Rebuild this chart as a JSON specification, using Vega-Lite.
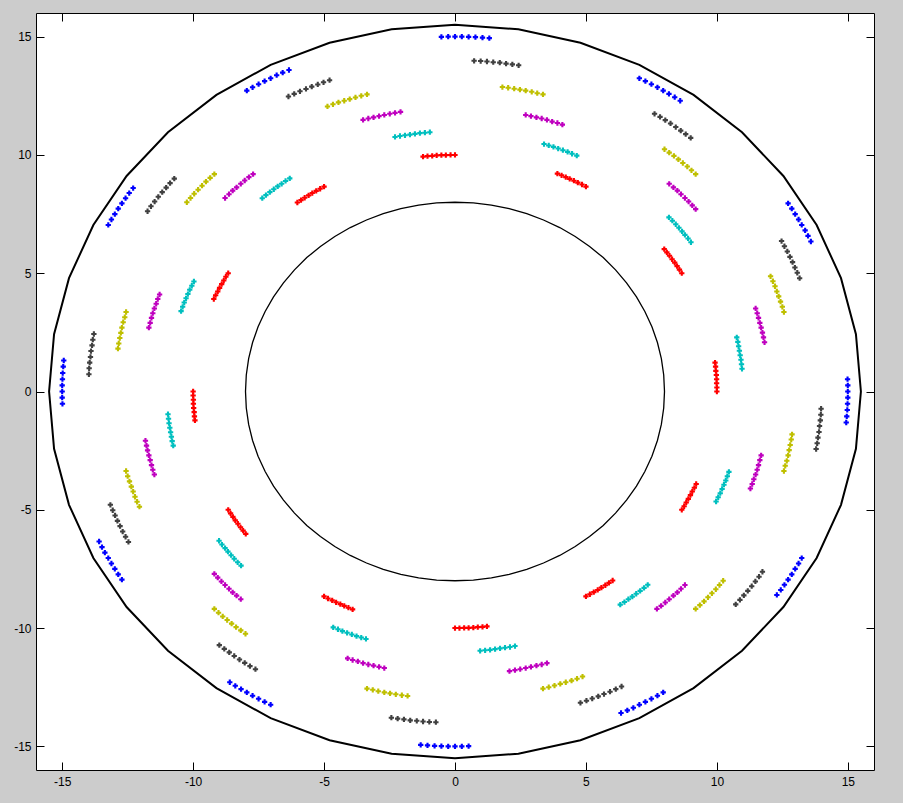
{
"$schema":"https://vega.github.io/schema/vega-lite/v6.json",
"width":838,"height":757,
"autosize":"none",
"padding":{"left":36,"top":13,"right":29,"bottom":33},
"background":"#cccccc",
"config":{"view":{"fill":"white","stroke":"black","strokeWidth":1},
 "axis":{"grid":false,"domain":false,"tickColor":"black","tickSize":-8,"tickWidth":1,"labelFont":"Liberation Sans","labelFontSize":12,"labelColor":"black","title":null}},
"datasets":{
"outer":[{"o":0,"x":15.5,"y":0},{"o":9,"x":15.31,"y":2.42},{"o":18,"x":14.74,"y":4.79},{"o":27,"x":13.81,"y":7.04},{"o":36,"x":12.54,"y":9.11},{"o":45,"x":10.96,"y":10.96},{"o":54,"x":9.11,"y":12.54},{"o":63,"x":7.04,"y":13.81},{"o":72,"x":4.79,"y":14.74},{"o":81,"x":2.42,"y":15.31},{"o":90,"x":0,"y":15.5},{"o":99,"x":-2.42,"y":15.31},{"o":108,"x":-4.79,"y":14.74},{"o":117,"x":-7.04,"y":13.81},{"o":126,"x":-9.11,"y":12.54},{"o":135,"x":-10.96,"y":10.96},{"o":144,"x":-12.54,"y":9.11},{"o":153,"x":-13.81,"y":7.04},{"o":162,"x":-14.74,"y":4.79},{"o":171,"x":-15.31,"y":2.42},{"o":180,"x":-15.5,"y":0},{"o":189,"x":-15.31,"y":-2.42},{"o":198,"x":-14.74,"y":-4.79},{"o":207,"x":-13.81,"y":-7.04},{"o":216,"x":-12.54,"y":-9.11},{"o":225,"x":-10.96,"y":-10.96},{"o":234,"x":-9.11,"y":-12.54},{"o":243,"x":-7.04,"y":-13.81},{"o":252,"x":-4.79,"y":-14.74},{"o":261,"x":-2.42,"y":-15.31},{"o":270,"x":0,"y":-15.5},{"o":279,"x":2.42,"y":-15.31},{"o":288,"x":4.79,"y":-14.74},{"o":297,"x":7.04,"y":-13.81},{"o":306,"x":9.11,"y":-12.54},{"o":315,"x":10.96,"y":-10.96},{"o":324,"x":12.54,"y":-9.11},{"o":333,"x":13.81,"y":-7.04},{"o":342,"x":14.74,"y":-4.79},{"o":351,"x":15.31,"y":-2.42},{"o":360,"x":15.5,"y":0}],
"inner":[{"o":0,"x":8,"y":0},{"o":5,"x":7.97,"y":0.7},{"o":10,"x":7.88,"y":1.39},{"o":15,"x":7.73,"y":2.07},{"o":20,"x":7.52,"y":2.74},{"o":25,"x":7.25,"y":3.38},{"o":30,"x":6.93,"y":4},{"o":35,"x":6.55,"y":4.59},{"o":40,"x":6.13,"y":5.14},{"o":45,"x":5.66,"y":5.66},{"o":50,"x":5.14,"y":6.13},{"o":55,"x":4.59,"y":6.55},{"o":60,"x":4,"y":6.93},{"o":65,"x":3.38,"y":7.25},{"o":70,"x":2.74,"y":7.52},{"o":75,"x":2.07,"y":7.73},{"o":80,"x":1.39,"y":7.88},{"o":85,"x":0.7,"y":7.97},{"o":90,"x":0,"y":8},{"o":95,"x":-0.7,"y":7.97},{"o":100,"x":-1.39,"y":7.88},{"o":105,"x":-2.07,"y":7.73},{"o":110,"x":-2.74,"y":7.52},{"o":115,"x":-3.38,"y":7.25},{"o":120,"x":-4,"y":6.93},{"o":125,"x":-4.59,"y":6.55},{"o":130,"x":-5.14,"y":6.13},{"o":135,"x":-5.66,"y":5.66},{"o":140,"x":-6.13,"y":5.14},{"o":145,"x":-6.55,"y":4.59},{"o":150,"x":-6.93,"y":4},{"o":155,"x":-7.25,"y":3.38},{"o":160,"x":-7.52,"y":2.74},{"o":165,"x":-7.73,"y":2.07},{"o":170,"x":-7.88,"y":1.39},{"o":175,"x":-7.97,"y":0.7},{"o":180,"x":-8,"y":0},{"o":185,"x":-7.97,"y":-0.7},{"o":190,"x":-7.88,"y":-1.39},{"o":195,"x":-7.73,"y":-2.07},{"o":200,"x":-7.52,"y":-2.74},{"o":205,"x":-7.25,"y":-3.38},{"o":210,"x":-6.93,"y":-4},{"o":215,"x":-6.55,"y":-4.59},{"o":220,"x":-6.13,"y":-5.14},{"o":225,"x":-5.66,"y":-5.66},{"o":230,"x":-5.14,"y":-6.13},{"o":235,"x":-4.59,"y":-6.55},{"o":240,"x":-4,"y":-6.93},{"o":245,"x":-3.38,"y":-7.25},{"o":250,"x":-2.74,"y":-7.52},{"o":255,"x":-2.07,"y":-7.73},{"o":260,"x":-1.39,"y":-7.88},{"o":265,"x":-0.7,"y":-7.97},{"o":270,"x":0,"y":-8},{"o":275,"x":0.7,"y":-7.97},{"o":280,"x":1.39,"y":-7.88},{"o":285,"x":2.07,"y":-7.73},{"o":290,"x":2.74,"y":-7.52},{"o":295,"x":3.38,"y":-7.25},{"o":300,"x":4,"y":-6.93},{"o":305,"x":4.59,"y":-6.55},{"o":310,"x":5.14,"y":-6.13},{"o":315,"x":5.66,"y":-5.66},{"o":320,"x":6.13,"y":-5.14},{"o":325,"x":6.55,"y":-4.59},{"o":330,"x":6.93,"y":-4},{"o":335,"x":7.25,"y":-3.38},{"o":340,"x":7.52,"y":-2.74},{"o":345,"x":7.73,"y":-2.07},{"o":350,"x":7.88,"y":-1.39},{"o":355,"x":7.97,"y":-0.7},{"o":360,"x":8,"y":0}],
"pts":[
{"c":0,"x":10,"y":0},{"c":0,"x":10,"y":0.17},{"c":0,"x":9.99,"y":0.35},{"c":0,"x":9.99,"y":0.52},{"c":0,"x":9.98,"y":0.7},{"c":0,"x":9.96,"y":0.87},{"c":0,"x":9.95,"y":1.05},{"c":0,"x":9.93,"y":1.22},
{"c":0,"x":8.66,"y":5},{"c":0,"x":8.57,"y":5.15},{"c":0,"x":8.48,"y":5.3},{"c":0,"x":8.39,"y":5.45},{"c":0,"x":8.29,"y":5.59},{"c":0,"x":8.19,"y":5.74},{"c":0,"x":8.09,"y":5.88},{"c":0,"x":7.99,"y":6.02},
{"c":0,"x":5,"y":8.66},{"c":0,"x":4.85,"y":8.75},{"c":0,"x":4.69,"y":8.83},{"c":0,"x":4.54,"y":8.91},{"c":0,"x":4.38,"y":8.99},{"c":0,"x":4.23,"y":9.06},{"c":0,"x":4.07,"y":9.14},{"c":0,"x":3.91,"y":9.21},
{"c":0,"x":0,"y":10},{"c":0,"x":-0.17,"y":10},{"c":0,"x":-0.35,"y":9.99},{"c":0,"x":-0.52,"y":9.99},{"c":0,"x":-0.7,"y":9.98},{"c":0,"x":-0.87,"y":9.96},{"c":0,"x":-1.05,"y":9.95},{"c":0,"x":-1.22,"y":9.93},
{"c":0,"x":-5,"y":8.66},{"c":0,"x":-5.15,"y":8.57},{"c":0,"x":-5.3,"y":8.48},{"c":0,"x":-5.45,"y":8.39},{"c":0,"x":-5.59,"y":8.29},{"c":0,"x":-5.74,"y":8.19},{"c":0,"x":-5.88,"y":8.09},{"c":0,"x":-6.02,"y":7.99},
{"c":0,"x":-8.66,"y":5},{"c":0,"x":-8.75,"y":4.85},{"c":0,"x":-8.83,"y":4.69},{"c":0,"x":-8.91,"y":4.54},{"c":0,"x":-8.99,"y":4.38},{"c":0,"x":-9.06,"y":4.23},{"c":0,"x":-9.14,"y":4.07},{"c":0,"x":-9.21,"y":3.91},
{"c":0,"x":-10,"y":0},{"c":0,"x":-10,"y":-0.17},{"c":0,"x":-9.99,"y":-0.35},{"c":0,"x":-9.99,"y":-0.52},{"c":0,"x":-9.98,"y":-0.7},{"c":0,"x":-9.96,"y":-0.87},{"c":0,"x":-9.95,"y":-1.05},{"c":0,"x":-9.93,"y":-1.22},
{"c":0,"x":-8.66,"y":-5},{"c":0,"x":-8.57,"y":-5.15},{"c":0,"x":-8.48,"y":-5.3},{"c":0,"x":-8.39,"y":-5.45},{"c":0,"x":-8.29,"y":-5.59},{"c":0,"x":-8.19,"y":-5.74},{"c":0,"x":-8.09,"y":-5.88},{"c":0,"x":-7.99,"y":-6.02},
{"c":0,"x":-5,"y":-8.66},{"c":0,"x":-4.85,"y":-8.75},{"c":0,"x":-4.69,"y":-8.83},{"c":0,"x":-4.54,"y":-8.91},{"c":0,"x":-4.38,"y":-8.99},{"c":0,"x":-4.23,"y":-9.06},{"c":0,"x":-4.07,"y":-9.14},{"c":0,"x":-3.91,"y":-9.21},
{"c":0,"x":0,"y":-10},{"c":0,"x":0.17,"y":-10},{"c":0,"x":0.35,"y":-9.99},{"c":0,"x":0.52,"y":-9.99},{"c":0,"x":0.7,"y":-9.98},{"c":0,"x":0.87,"y":-9.96},{"c":0,"x":1.05,"y":-9.95},{"c":0,"x":1.22,"y":-9.93},
{"c":0,"x":5,"y":-8.66},{"c":0,"x":5.15,"y":-8.57},{"c":0,"x":5.3,"y":-8.48},{"c":0,"x":5.45,"y":-8.39},{"c":0,"x":5.59,"y":-8.29},{"c":0,"x":5.74,"y":-8.19},{"c":0,"x":5.88,"y":-8.09},{"c":0,"x":6.02,"y":-7.99},
{"c":0,"x":8.66,"y":-5},{"c":0,"x":8.75,"y":-4.85},{"c":0,"x":8.83,"y":-4.69},{"c":0,"x":8.91,"y":-4.54},{"c":0,"x":8.99,"y":-4.38},{"c":0,"x":9.06,"y":-4.23},{"c":0,"x":9.14,"y":-4.07},{"c":0,"x":9.21,"y":-3.91},
{"c":1,"x":10.96,"y":0.96},{"c":1,"x":10.94,"y":1.15},{"c":1,"x":10.92,"y":1.34},{"c":1,"x":10.89,"y":1.53},{"c":1,"x":10.86,"y":1.72},{"c":1,"x":10.83,"y":1.91},{"c":1,"x":10.8,"y":2.1},{"c":1,"x":10.76,"y":2.29},
{"c":1,"x":9.01,"y":6.31},{"c":1,"x":8.9,"y":6.47},{"c":1,"x":8.78,"y":6.62},{"c":1,"x":8.67,"y":6.77},{"c":1,"x":8.55,"y":6.92},{"c":1,"x":8.43,"y":7.07},{"c":1,"x":8.3,"y":7.22},{"c":1,"x":8.17,"y":7.36},
{"c":1,"x":4.65,"y":9.97},{"c":1,"x":4.47,"y":10.05},{"c":1,"x":4.3,"y":10.13},{"c":1,"x":4.12,"y":10.2},{"c":1,"x":3.94,"y":10.27},{"c":1,"x":3.76,"y":10.34},{"c":1,"x":3.58,"y":10.4},{"c":1,"x":3.4,"y":10.46},
{"c":1,"x":-0.96,"y":10.96},{"c":1,"x":-1.15,"y":10.94},{"c":1,"x":-1.34,"y":10.92},{"c":1,"x":-1.53,"y":10.89},{"c":1,"x":-1.72,"y":10.86},{"c":1,"x":-1.91,"y":10.83},{"c":1,"x":-2.1,"y":10.8},{"c":1,"x":-2.29,"y":10.76},
{"c":1,"x":-6.31,"y":9.01},{"c":1,"x":-6.47,"y":8.9},{"c":1,"x":-6.62,"y":8.78},{"c":1,"x":-6.77,"y":8.67},{"c":1,"x":-6.92,"y":8.55},{"c":1,"x":-7.07,"y":8.43},{"c":1,"x":-7.22,"y":8.3},{"c":1,"x":-7.36,"y":8.17},
{"c":1,"x":-9.97,"y":4.65},{"c":1,"x":-10.05,"y":4.47},{"c":1,"x":-10.13,"y":4.3},{"c":1,"x":-10.2,"y":4.12},{"c":1,"x":-10.27,"y":3.94},{"c":1,"x":-10.34,"y":3.76},{"c":1,"x":-10.4,"y":3.58},{"c":1,"x":-10.46,"y":3.4},
{"c":1,"x":-10.96,"y":-0.96},{"c":1,"x":-10.94,"y":-1.15},{"c":1,"x":-10.92,"y":-1.34},{"c":1,"x":-10.89,"y":-1.53},{"c":1,"x":-10.86,"y":-1.72},{"c":1,"x":-10.83,"y":-1.91},{"c":1,"x":-10.8,"y":-2.1},{"c":1,"x":-10.76,"y":-2.29},
{"c":1,"x":-9.01,"y":-6.31},{"c":1,"x":-8.9,"y":-6.47},{"c":1,"x":-8.78,"y":-6.62},{"c":1,"x":-8.67,"y":-6.77},{"c":1,"x":-8.55,"y":-6.92},{"c":1,"x":-8.43,"y":-7.07},{"c":1,"x":-8.3,"y":-7.22},{"c":1,"x":-8.17,"y":-7.36},
{"c":1,"x":-4.65,"y":-9.97},{"c":1,"x":-4.47,"y":-10.05},{"c":1,"x":-4.3,"y":-10.13},{"c":1,"x":-4.12,"y":-10.2},{"c":1,"x":-3.94,"y":-10.27},{"c":1,"x":-3.76,"y":-10.34},{"c":1,"x":-3.58,"y":-10.4},{"c":1,"x":-3.4,"y":-10.46},
{"c":1,"x":0.96,"y":-10.96},{"c":1,"x":1.15,"y":-10.94},{"c":1,"x":1.34,"y":-10.92},{"c":1,"x":1.53,"y":-10.89},{"c":1,"x":1.72,"y":-10.86},{"c":1,"x":1.91,"y":-10.83},{"c":1,"x":2.1,"y":-10.8},{"c":1,"x":2.29,"y":-10.76},
{"c":1,"x":6.31,"y":-9.01},{"c":1,"x":6.47,"y":-8.9},{"c":1,"x":6.62,"y":-8.78},{"c":1,"x":6.77,"y":-8.67},{"c":1,"x":6.92,"y":-8.55},{"c":1,"x":7.07,"y":-8.43},{"c":1,"x":7.22,"y":-8.3},{"c":1,"x":7.36,"y":-8.17},
{"c":1,"x":9.97,"y":-4.65},{"c":1,"x":10.05,"y":-4.47},{"c":1,"x":10.13,"y":-4.3},{"c":1,"x":10.2,"y":-4.12},{"c":1,"x":10.27,"y":-3.94},{"c":1,"x":10.34,"y":-3.76},{"c":1,"x":10.4,"y":-3.58},{"c":1,"x":10.46,"y":-3.4},
{"c":2,"x":11.82,"y":2.08},{"c":2,"x":11.78,"y":2.29},{"c":2,"x":11.74,"y":2.49},{"c":2,"x":11.69,"y":2.7},{"c":2,"x":11.64,"y":2.9},{"c":2,"x":11.59,"y":3.11},{"c":2,"x":11.54,"y":3.31},{"c":2,"x":11.48,"y":3.51},
{"c":2,"x":9.19,"y":7.71},{"c":2,"x":9.06,"y":7.87},{"c":2,"x":8.92,"y":8.03},{"c":2,"x":8.78,"y":8.18},{"c":2,"x":8.63,"y":8.34},{"c":2,"x":8.49,"y":8.49},{"c":2,"x":8.34,"y":8.63},{"c":2,"x":8.18,"y":8.78},
{"c":2,"x":4.1,"y":11.28},{"c":2,"x":3.91,"y":11.35},{"c":2,"x":3.71,"y":11.41},{"c":2,"x":3.51,"y":11.48},{"c":2,"x":3.31,"y":11.54},{"c":2,"x":3.11,"y":11.59},{"c":2,"x":2.9,"y":11.64},{"c":2,"x":2.7,"y":11.69},
{"c":2,"x":-2.08,"y":11.82},{"c":2,"x":-2.29,"y":11.78},{"c":2,"x":-2.49,"y":11.74},{"c":2,"x":-2.7,"y":11.69},{"c":2,"x":-2.9,"y":11.64},{"c":2,"x":-3.11,"y":11.59},{"c":2,"x":-3.31,"y":11.54},{"c":2,"x":-3.51,"y":11.48},
{"c":2,"x":-7.71,"y":9.19},{"c":2,"x":-7.87,"y":9.06},{"c":2,"x":-8.03,"y":8.92},{"c":2,"x":-8.18,"y":8.78},{"c":2,"x":-8.34,"y":8.63},{"c":2,"x":-8.49,"y":8.49},{"c":2,"x":-8.63,"y":8.34},{"c":2,"x":-8.78,"y":8.18},
{"c":2,"x":-11.28,"y":4.1},{"c":2,"x":-11.35,"y":3.91},{"c":2,"x":-11.41,"y":3.71},{"c":2,"x":-11.48,"y":3.51},{"c":2,"x":-11.54,"y":3.31},{"c":2,"x":-11.59,"y":3.11},{"c":2,"x":-11.64,"y":2.9},{"c":2,"x":-11.69,"y":2.7},
{"c":2,"x":-11.82,"y":-2.08},{"c":2,"x":-11.78,"y":-2.29},{"c":2,"x":-11.74,"y":-2.49},{"c":2,"x":-11.69,"y":-2.7},{"c":2,"x":-11.64,"y":-2.9},{"c":2,"x":-11.59,"y":-3.11},{"c":2,"x":-11.54,"y":-3.31},{"c":2,"x":-11.48,"y":-3.51},
{"c":2,"x":-9.19,"y":-7.71},{"c":2,"x":-9.06,"y":-7.87},{"c":2,"x":-8.92,"y":-8.03},{"c":2,"x":-8.78,"y":-8.18},{"c":2,"x":-8.63,"y":-8.34},{"c":2,"x":-8.49,"y":-8.49},{"c":2,"x":-8.34,"y":-8.63},{"c":2,"x":-8.18,"y":-8.78},
{"c":2,"x":-4.1,"y":-11.28},{"c":2,"x":-3.91,"y":-11.35},{"c":2,"x":-3.71,"y":-11.41},{"c":2,"x":-3.51,"y":-11.48},{"c":2,"x":-3.31,"y":-11.54},{"c":2,"x":-3.11,"y":-11.59},{"c":2,"x":-2.9,"y":-11.64},{"c":2,"x":-2.7,"y":-11.69},
{"c":2,"x":2.08,"y":-11.82},{"c":2,"x":2.29,"y":-11.78},{"c":2,"x":2.49,"y":-11.74},{"c":2,"x":2.7,"y":-11.69},{"c":2,"x":2.9,"y":-11.64},{"c":2,"x":3.11,"y":-11.59},{"c":2,"x":3.31,"y":-11.54},{"c":2,"x":3.51,"y":-11.48},
{"c":2,"x":7.71,"y":-9.19},{"c":2,"x":7.87,"y":-9.06},{"c":2,"x":8.03,"y":-8.92},{"c":2,"x":8.18,"y":-8.78},{"c":2,"x":8.34,"y":-8.63},{"c":2,"x":8.49,"y":-8.49},{"c":2,"x":8.63,"y":-8.34},{"c":2,"x":8.78,"y":-8.18},
{"c":2,"x":11.28,"y":-4.1},{"c":2,"x":11.35,"y":-3.91},{"c":2,"x":11.41,"y":-3.71},{"c":2,"x":11.48,"y":-3.51},{"c":2,"x":11.54,"y":-3.31},{"c":2,"x":11.59,"y":-3.11},{"c":2,"x":11.64,"y":-2.9},{"c":2,"x":11.69,"y":-2.7},
{"c":3,"x":12.56,"y":3.36},{"c":3,"x":12.5,"y":3.58},{"c":3,"x":12.43,"y":3.8},{"c":3,"x":12.36,"y":4.02},{"c":3,"x":12.29,"y":4.23},{"c":3,"x":12.22,"y":4.45},{"c":3,"x":12.14,"y":4.66},{"c":3,"x":12.05,"y":4.87},
{"c":3,"x":9.19,"y":9.19},{"c":3,"x":9.03,"y":9.35},{"c":3,"x":8.87,"y":9.51},{"c":3,"x":8.7,"y":9.66},{"c":3,"x":8.53,"y":9.81},{"c":3,"x":8.36,"y":9.96},{"c":3,"x":8.18,"y":10.1},{"c":3,"x":8,"y":10.24},
{"c":3,"x":3.36,"y":12.56},{"c":3,"x":3.14,"y":12.61},{"c":3,"x":2.93,"y":12.67},{"c":3,"x":2.7,"y":12.72},{"c":3,"x":2.48,"y":12.76},{"c":3,"x":2.26,"y":12.8},{"c":3,"x":2.03,"y":12.84},{"c":3,"x":1.81,"y":12.87},
{"c":3,"x":-3.36,"y":12.56},{"c":3,"x":-3.58,"y":12.5},{"c":3,"x":-3.8,"y":12.43},{"c":3,"x":-4.02,"y":12.36},{"c":3,"x":-4.23,"y":12.29},{"c":3,"x":-4.45,"y":12.22},{"c":3,"x":-4.66,"y":12.14},{"c":3,"x":-4.87,"y":12.05},
{"c":3,"x":-9.19,"y":9.19},{"c":3,"x":-9.35,"y":9.03},{"c":3,"x":-9.51,"y":8.87},{"c":3,"x":-9.66,"y":8.7},{"c":3,"x":-9.81,"y":8.53},{"c":3,"x":-9.96,"y":8.36},{"c":3,"x":-10.1,"y":8.18},{"c":3,"x":-10.24,"y":8},
{"c":3,"x":-12.56,"y":3.36},{"c":3,"x":-12.61,"y":3.14},{"c":3,"x":-12.67,"y":2.93},{"c":3,"x":-12.72,"y":2.7},{"c":3,"x":-12.76,"y":2.48},{"c":3,"x":-12.8,"y":2.26},{"c":3,"x":-12.84,"y":2.03},{"c":3,"x":-12.87,"y":1.81},
{"c":3,"x":-12.56,"y":-3.36},{"c":3,"x":-12.5,"y":-3.58},{"c":3,"x":-12.43,"y":-3.8},{"c":3,"x":-12.36,"y":-4.02},{"c":3,"x":-12.29,"y":-4.23},{"c":3,"x":-12.22,"y":-4.45},{"c":3,"x":-12.14,"y":-4.66},{"c":3,"x":-12.05,"y":-4.87},
{"c":3,"x":-9.19,"y":-9.19},{"c":3,"x":-9.03,"y":-9.35},{"c":3,"x":-8.87,"y":-9.51},{"c":3,"x":-8.7,"y":-9.66},{"c":3,"x":-8.53,"y":-9.81},{"c":3,"x":-8.36,"y":-9.96},{"c":3,"x":-8.18,"y":-10.1},{"c":3,"x":-8,"y":-10.24},
{"c":3,"x":-3.36,"y":-12.56},{"c":3,"x":-3.14,"y":-12.61},{"c":3,"x":-2.93,"y":-12.67},{"c":3,"x":-2.7,"y":-12.72},{"c":3,"x":-2.48,"y":-12.76},{"c":3,"x":-2.26,"y":-12.8},{"c":3,"x":-2.03,"y":-12.84},{"c":3,"x":-1.81,"y":-12.87},
{"c":3,"x":3.36,"y":-12.56},{"c":3,"x":3.58,"y":-12.5},{"c":3,"x":3.8,"y":-12.43},{"c":3,"x":4.02,"y":-12.36},{"c":3,"x":4.23,"y":-12.29},{"c":3,"x":4.45,"y":-12.22},{"c":3,"x":4.66,"y":-12.14},{"c":3,"x":4.87,"y":-12.05},
{"c":3,"x":9.19,"y":-9.19},{"c":3,"x":9.35,"y":-9.03},{"c":3,"x":9.51,"y":-8.87},{"c":3,"x":9.66,"y":-8.7},{"c":3,"x":9.81,"y":-8.53},{"c":3,"x":9.96,"y":-8.36},{"c":3,"x":10.1,"y":-8.18},{"c":3,"x":10.24,"y":-8},
{"c":3,"x":12.56,"y":-3.36},{"c":3,"x":12.61,"y":-3.14},{"c":3,"x":12.67,"y":-2.93},{"c":3,"x":12.72,"y":-2.7},{"c":3,"x":12.76,"y":-2.48},{"c":3,"x":12.8,"y":-2.26},{"c":3,"x":12.84,"y":-2.03},{"c":3,"x":12.87,"y":-1.81},
{"c":4,"x":13.16,"y":4.79},{"c":4,"x":13.07,"y":5.02},{"c":4,"x":12.98,"y":5.24},{"c":4,"x":12.89,"y":5.47},{"c":4,"x":12.79,"y":5.69},{"c":4,"x":12.69,"y":5.92},{"c":4,"x":12.58,"y":6.14},{"c":4,"x":12.47,"y":6.36},
{"c":4,"x":9,"y":10.72},{"c":4,"x":8.81,"y":10.88},{"c":4,"x":8.62,"y":11.03},{"c":4,"x":8.43,"y":11.18},{"c":4,"x":8.23,"y":11.33},{"c":4,"x":8.03,"y":11.47},{"c":4,"x":7.83,"y":11.61},{"c":4,"x":7.62,"y":11.74},
{"c":4,"x":2.43,"y":13.79},{"c":4,"x":2.19,"y":13.83},{"c":4,"x":1.95,"y":13.86},{"c":4,"x":1.71,"y":13.9},{"c":4,"x":1.46,"y":13.92},{"c":4,"x":1.22,"y":13.95},{"c":4,"x":0.98,"y":13.97},{"c":4,"x":0.73,"y":13.98},
{"c":4,"x":-4.79,"y":13.16},{"c":4,"x":-5.02,"y":13.07},{"c":4,"x":-5.24,"y":12.98},{"c":4,"x":-5.47,"y":12.89},{"c":4,"x":-5.69,"y":12.79},{"c":4,"x":-5.92,"y":12.69},{"c":4,"x":-6.14,"y":12.58},{"c":4,"x":-6.36,"y":12.47},
{"c":4,"x":-10.72,"y":9},{"c":4,"x":-10.88,"y":8.81},{"c":4,"x":-11.03,"y":8.62},{"c":4,"x":-11.18,"y":8.43},{"c":4,"x":-11.33,"y":8.23},{"c":4,"x":-11.47,"y":8.03},{"c":4,"x":-11.61,"y":7.83},{"c":4,"x":-11.74,"y":7.62},
{"c":4,"x":-13.79,"y":2.43},{"c":4,"x":-13.83,"y":2.19},{"c":4,"x":-13.86,"y":1.95},{"c":4,"x":-13.9,"y":1.71},{"c":4,"x":-13.92,"y":1.46},{"c":4,"x":-13.95,"y":1.22},{"c":4,"x":-13.97,"y":0.98},{"c":4,"x":-13.98,"y":0.73},
{"c":4,"x":-13.16,"y":-4.79},{"c":4,"x":-13.07,"y":-5.02},{"c":4,"x":-12.98,"y":-5.24},{"c":4,"x":-12.89,"y":-5.47},{"c":4,"x":-12.79,"y":-5.69},{"c":4,"x":-12.69,"y":-5.92},{"c":4,"x":-12.58,"y":-6.14},{"c":4,"x":-12.47,"y":-6.36},
{"c":4,"x":-9,"y":-10.72},{"c":4,"x":-8.81,"y":-10.88},{"c":4,"x":-8.62,"y":-11.03},{"c":4,"x":-8.43,"y":-11.18},{"c":4,"x":-8.23,"y":-11.33},{"c":4,"x":-8.03,"y":-11.47},{"c":4,"x":-7.83,"y":-11.61},{"c":4,"x":-7.62,"y":-11.74},
{"c":4,"x":-2.43,"y":-13.79},{"c":4,"x":-2.19,"y":-13.83},{"c":4,"x":-1.95,"y":-13.86},{"c":4,"x":-1.71,"y":-13.9},{"c":4,"x":-1.46,"y":-13.92},{"c":4,"x":-1.22,"y":-13.95},{"c":4,"x":-0.98,"y":-13.97},{"c":4,"x":-0.73,"y":-13.98},
{"c":4,"x":4.79,"y":-13.16},{"c":4,"x":5.02,"y":-13.07},{"c":4,"x":5.24,"y":-12.98},{"c":4,"x":5.47,"y":-12.89},{"c":4,"x":5.69,"y":-12.79},{"c":4,"x":5.92,"y":-12.69},{"c":4,"x":6.14,"y":-12.58},{"c":4,"x":6.36,"y":-12.47},
{"c":4,"x":10.72,"y":-9},{"c":4,"x":10.88,"y":-8.81},{"c":4,"x":11.03,"y":-8.62},{"c":4,"x":11.18,"y":-8.43},{"c":4,"x":11.33,"y":-8.23},{"c":4,"x":11.47,"y":-8.03},{"c":4,"x":11.61,"y":-7.83},{"c":4,"x":11.74,"y":-7.62},
{"c":4,"x":13.79,"y":-2.43},{"c":4,"x":13.83,"y":-2.19},{"c":4,"x":13.86,"y":-1.95},{"c":4,"x":13.9,"y":-1.71},{"c":4,"x":13.92,"y":-1.46},{"c":4,"x":13.95,"y":-1.22},{"c":4,"x":13.97,"y":-0.98},{"c":4,"x":13.98,"y":-0.73},
{"c":5,"x":13.59,"y":6.34},{"c":5,"x":13.48,"y":6.58},{"c":5,"x":13.37,"y":6.81},{"c":5,"x":13.24,"y":7.04},{"c":5,"x":13.12,"y":7.27},{"c":5,"x":12.99,"y":7.5},{"c":5,"x":12.86,"y":7.73},{"c":5,"x":12.72,"y":7.95},
{"c":5,"x":8.6,"y":12.29},{"c":5,"x":8.39,"y":12.44},{"c":5,"x":8.17,"y":12.58},{"c":5,"x":7.95,"y":12.72},{"c":5,"x":7.73,"y":12.86},{"c":5,"x":7.5,"y":12.99},{"c":5,"x":7.27,"y":13.12},{"c":5,"x":7.04,"y":13.24},
{"c":5,"x":1.31,"y":14.94},{"c":5,"x":1.05,"y":14.96},{"c":5,"x":0.78,"y":14.98},{"c":5,"x":0.52,"y":14.99},{"c":5,"x":0.26,"y":15},{"c":5,"x":0,"y":15},{"c":5,"x":-0.26,"y":15},{"c":5,"x":-0.52,"y":14.99},
{"c":5,"x":-6.34,"y":13.59},{"c":5,"x":-6.58,"y":13.48},{"c":5,"x":-6.81,"y":13.37},{"c":5,"x":-7.04,"y":13.24},{"c":5,"x":-7.27,"y":13.12},{"c":5,"x":-7.5,"y":12.99},{"c":5,"x":-7.73,"y":12.86},{"c":5,"x":-7.95,"y":12.72},
{"c":5,"x":-12.29,"y":8.6},{"c":5,"x":-12.44,"y":8.39},{"c":5,"x":-12.58,"y":8.17},{"c":5,"x":-12.72,"y":7.95},{"c":5,"x":-12.86,"y":7.73},{"c":5,"x":-12.99,"y":7.5},{"c":5,"x":-13.12,"y":7.27},{"c":5,"x":-13.24,"y":7.04},
{"c":5,"x":-14.94,"y":1.31},{"c":5,"x":-14.96,"y":1.05},{"c":5,"x":-14.98,"y":0.78},{"c":5,"x":-14.99,"y":0.52},{"c":5,"x":-15,"y":0.26},{"c":5,"x":-15,"y":0},{"c":5,"x":-15,"y":-0.26},{"c":5,"x":-14.99,"y":-0.52},
{"c":5,"x":-13.59,"y":-6.34},{"c":5,"x":-13.48,"y":-6.58},{"c":5,"x":-13.37,"y":-6.81},{"c":5,"x":-13.24,"y":-7.04},{"c":5,"x":-13.12,"y":-7.27},{"c":5,"x":-12.99,"y":-7.5},{"c":5,"x":-12.86,"y":-7.73},{"c":5,"x":-12.72,"y":-7.95},
{"c":5,"x":-8.6,"y":-12.29},{"c":5,"x":-8.39,"y":-12.44},{"c":5,"x":-8.17,"y":-12.58},{"c":5,"x":-7.95,"y":-12.72},{"c":5,"x":-7.73,"y":-12.86},{"c":5,"x":-7.5,"y":-12.99},{"c":5,"x":-7.27,"y":-13.12},{"c":5,"x":-7.04,"y":-13.24},
{"c":5,"x":-1.31,"y":-14.94},{"c":5,"x":-1.05,"y":-14.96},{"c":5,"x":-0.78,"y":-14.98},{"c":5,"x":-0.52,"y":-14.99},{"c":5,"x":-0.26,"y":-15},{"c":5,"x":0,"y":-15},{"c":5,"x":0.26,"y":-15},{"c":5,"x":0.52,"y":-14.99},
{"c":5,"x":6.34,"y":-13.59},{"c":5,"x":6.58,"y":-13.48},{"c":5,"x":6.81,"y":-13.37},{"c":5,"x":7.04,"y":-13.24},{"c":5,"x":7.27,"y":-13.12},{"c":5,"x":7.5,"y":-12.99},{"c":5,"x":7.73,"y":-12.86},{"c":5,"x":7.95,"y":-12.72},
{"c":5,"x":12.29,"y":-8.6},{"c":5,"x":12.44,"y":-8.39},{"c":5,"x":12.58,"y":-8.17},{"c":5,"x":12.72,"y":-7.95},{"c":5,"x":12.86,"y":-7.73},{"c":5,"x":12.99,"y":-7.5},{"c":5,"x":13.12,"y":-7.27},{"c":5,"x":13.24,"y":-7.04},
{"c":5,"x":14.94,"y":-1.31},{"c":5,"x":14.96,"y":-1.05},{"c":5,"x":14.98,"y":-0.78},{"c":5,"x":14.99,"y":-0.52},{"c":5,"x":15,"y":-0.26},{"c":5,"x":15,"y":0},{"c":5,"x":15,"y":0.26},{"c":5,"x":14.99,"y":0.52}
]},
"layer":[
{"data":{"name":"outer"},"mark":{"type":"line","color":"black","strokeWidth":2},
 "encoding":{
  "x":{"field":"x","type":"quantitative","scale":{"domain":[-16,16],"nice":false,"zero":false},"axis":{"orient":"bottom","values":[-15,-10,-5,0,5,10,15],"labelPadding":14,"labelExpr":"'' + datum.value"}},
  "y":{"field":"y","type":"quantitative","scale":{"domain":[-16,16],"nice":false,"zero":false},"axis":{"orient":"left","values":[-15,-10,-5,0,5,10,15],"labelPadding":13,"labelExpr":"'' + datum.value"}},
  "order":{"field":"o","type":"quantitative"}}},
{"data":{"name":"inner"},"mark":{"type":"line","color":"black","strokeWidth":1.3},
 "encoding":{
  "x":{"field":"x","type":"quantitative","axis":{"orient":"top","values":[-15,-10,-5,0,5,10,15],"labels":false}},
  "y":{"field":"y","type":"quantitative","axis":{"orient":"right","values":[-15,-10,-5,0,5,10,15],"labels":false}},
  "order":{"field":"o","type":"quantitative"}}},
{"data":{"name":"pts"},"mark":{"type":"point","shape":"cross","filled":true,"size":28,"opacity":1},
 "encoding":{
  "x":{"field":"x","type":"quantitative","axis":null},
  "y":{"field":"y","type":"quantitative","axis":null},
  "color":{"field":"c","type":"nominal","scale":{"domain":[0,1,2,3,4,5],"range":["#ff0000","#00bfbf","#bf00bf","#bfbf00","#404040","#0000ff"]},"legend":null}}}
],
"resolve":{"axis":{"x":"independent","y":"independent"}}
}
